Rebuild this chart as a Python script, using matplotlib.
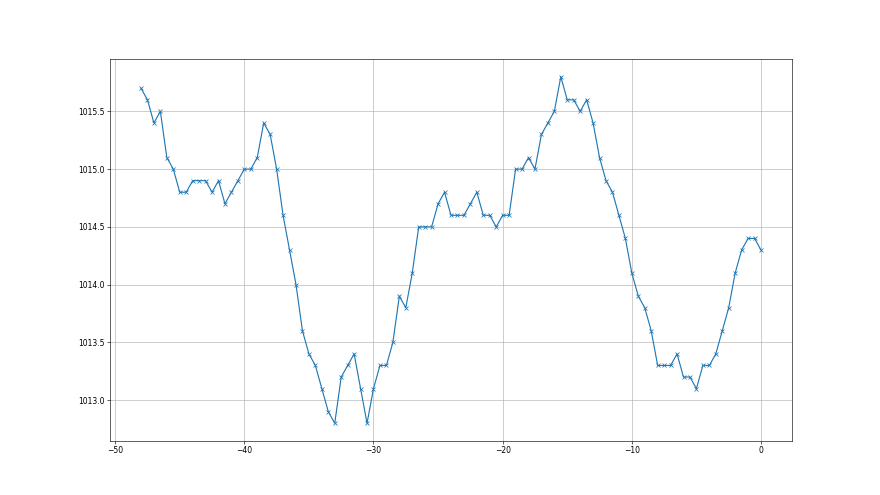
import numpy as np
import matplotlib.pyplot as plt

# hours relative to now, half-hour steps
hours = np.arange(-48, 0.5, 0.5)

# pressure readings (hPa)
pressure = [
    1015.7, 1015.6, 1015.4, 1015.5, 1015.1, 1015.0, 1014.8, 1014.8, 1014.9, 1014.9,
    1014.9, 1014.8, 1014.9, 1014.7, 1014.8, 1014.9, 1015.0, 1015.0, 1015.1, 1015.4,
    1015.3, 1015.0, 1014.6, 1014.3, 1014.0, 1013.6, 1013.4, 1013.3, 1013.1, 1012.9,
    1012.8, 1013.2, 1013.3, 1013.4, 1013.1, 1012.8, 1013.1, 1013.3, 1013.3, 1013.5,
    1013.9, 1013.8, 1014.1, 1014.5, 1014.5, 1014.5, 1014.7, 1014.8, 1014.6, 1014.6,
    1014.6, 1014.7, 1014.8, 1014.6, 1014.6, 1014.5, 1014.6, 1014.6, 1015.0, 1015.0,
    1015.1, 1015.0, 1015.3, 1015.4, 1015.5, 1015.8, 1015.6, 1015.6, 1015.5, 1015.6,
    1015.4, 1015.1, 1014.9, 1014.8, 1014.6, 1014.4, 1014.1, 1013.9, 1013.8, 1013.6,
    1013.3, 1013.3, 1013.3, 1013.4, 1013.2, 1013.2, 1013.1, 1013.3, 1013.3, 1013.4,
    1013.6, 1013.8, 1014.1, 1014.3, 1014.4, 1014.4, 1014.3,
]

fig = plt.figure(figsize=(16, 9), dpi=55)
plt.plot(hours, pressure, marker='x', color='#1f77b4')
plt.grid(True)
plt.savefig("out.png", dpi=55)
